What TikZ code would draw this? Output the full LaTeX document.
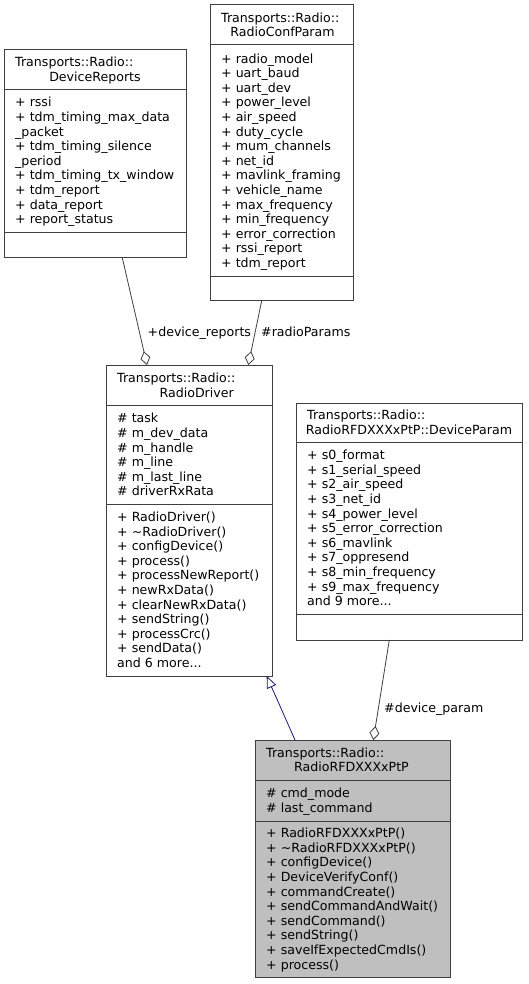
\documentclass[tikz,border=0pt]{standalone}
\usepackage{fontspec}
\setmainfont{DejaVu Sans}
\usetikzlibrary{arrows.meta}
\definecolor{boxc}{HTML}{404040}
\definecolor{aggc}{HTML}{404040}
\definecolor{inhc}{HTML}{191970}
\definecolor{hlfill}{HTML}{BFBFBF}
\newcommand\fnt{\fontsize{12.6}{14.6}\selectfont}
\tikzset{
  box/.style={draw=boxc, line width=1pt, anchor=north west, inner sep=0pt, outer sep=0pt},
  boxline/.style={draw=boxc, line width=1pt},
  txt/.style={anchor=west, inner sep=0pt, align=left, font=\fnt, yshift=-1.5pt},
  ttl/.style={anchor=center, inner sep=0pt, font=\fnt, yshift=-1.5pt},
  ttll/.style={anchor=west, inner sep=0pt, font=\fnt, yshift=-1.5pt},
  agg/.style={draw=aggc, line width=0.8pt, -{Diamond[open, length=14pt, width=10pt, fill=white]}},
  inh/.style={draw=inhc, line width=0.8pt, -{Triangle[open, length=12pt, width=10pt, fill=white]}},
  lbl/.style={anchor=base west, inner sep=0pt, font=\fnt},
}
\begin{document}
\begin{tikzpicture}[x=1pt,y=-1pt]
\useasboundingbox[fill=white] (0,0) rectangle (528,984);

% DeviceReports
\node[box, minimum width=182pt, minimum height=207.7pt] (dr) at (4,50) {};
\draw[boxline] (dr.west |- 0,89.3) -- (dr.east |- 0,89.3);
\draw[boxline] (dr.west |- 0,232.3) -- (dr.east |- 0,232.3);
\node[ttll] (dr-t1) at (15,62.35) {\strut Transports::Radio::};
\node[ttl] (dr-t2) at (95,76.95) {\strut DeviceReports};
\node[txt] (dr-a) at (15,160.8) {\strut + rssi\\\strut + tdm\_timing\_max\_data\\\strut \_packet\\\strut + tdm\_timing\_silence\\\strut \_period\\\strut + tdm\_timing\_tx\_window\\\strut + tdm\_report\\\strut + data\_report\\\strut + report\_status};

% RadioConfParam
\node[box, minimum width=143.3pt, minimum height=295.7pt] (rcp) at (210,5) {};
\draw[boxline] (rcp.west |- 0,45) -- (rcp.east |- 0,45);
\draw[boxline] (rcp.west |- 0,276.7) -- (rcp.east |- 0,276.7);
\node[ttll] (rcp-t1) at (221,17.7) {\strut Transports::Radio::};
\node[ttl] (rcp-t2) at (282.5,32.3) {\strut RadioConfParam};
\node[txt] (rcp-a) at (221,160.85) {\strut + radio\_model\\\strut + uart\_baud\\\strut + uart\_dev\\\strut + power\_level\\\strut + air\_speed\\\strut + duty\_cycle\\\strut + mum\_channels\\\strut + net\_id\\\strut + mavlink\_framing\\\strut + vehicle\_name\\\strut + max\_frequency\\\strut + min\_frequency\\\strut + error\_correction\\\strut + rssi\_report\\\strut + tdm\_report};

% RadioDriver
\node[box, minimum width=166pt, minimum height=311pt] (rd) at (106,365) {};
\draw[boxline] (rd.west |- 0,405.7) -- (rd.east |- 0,405.7);
\draw[boxline] (rd.west |- 0,504.3) -- (rd.east |- 0,504.3);
\node[ttll] (rd-t1) at (117,378.05) {\strut Transports::Radio::};
\node[ttl] (rd-t2) at (196.7,392.65) {\strut RadioDriver};
\node[txt] (rd-a) at (117,455) {\strut \# task\\\strut \# m\_dev\_data\\\strut \# m\_handle\\\strut \# m\_line\\\strut \# m\_last\_line\\\strut \# driverRxRata};
\node[txt] (rd-m) at (117,590.15) {\strut + RadioDriver()\\\strut + \textasciitilde RadioDriver()\\\strut + configDevice()\\\strut + process()\\\strut + processNewReport()\\\strut + newRxData()\\\strut + clearNewRxData()\\\strut + sendString()\\\strut + processCrc()\\\strut + sendData()\\\strut and 6 more...};

% DeviceParam
\node[box, minimum width=226.3pt, minimum height=236.7pt] (dp) at (296,403.3) {};
\draw[boxline] (dp.west |- 0,442.3) -- (dp.east |- 0,442.3);
\draw[boxline] (dp.west |- 0,614.3) -- (dp.east |- 0,614.3);
\node[ttll] (dp-t1) at (307,415.5) {\strut Transports::Radio::};
\node[ttl] (dp-t2) at (409,430.1) {\strut RadioRFDXXXxPtP::DeviceParam};
\node[txt] (dp-a) at (307,528.3) {\strut + s0\_format\\\strut + s1\_serial\_speed\\\strut + s2\_air\_speed\\\strut + s3\_net\_id\\\strut + s4\_power\_level\\\strut + s5\_error\_correction\\\strut + s6\_mavlink\\\strut + s7\_oppresend\\\strut + s8\_min\_frequency\\\strut + s9\_max\_frequency\\\strut and 9 more...};

% RadioRFDXXXxPtP
\node[box, fill=hlfill, minimum width=195.7pt, minimum height=237pt] (rfd) at (255,740) {};
\draw[boxline] (rfd.west |- 0,780.5) -- (rfd.east |- 0,780.5);
\draw[boxline] (rfd.west |- 0,821) -- (rfd.east |- 0,821);
\node[ttll] (rfd-t1) at (266,752.95) {\strut Transports::Radio::};
\node[ttl] (rfd-t2) at (351.5,767.55) {\strut RadioRFDXXXxPtP};
\node[txt] (rfd-a) at (266,800.75) {\strut \# cmd\_mode\\\strut \# last\_command};
\node[txt] (rfd-m) at (266,899) {\strut + RadioRFDXXXxPtP()\\\strut + \textasciitilde RadioRFDXXXxPtP()\\\strut + configDevice()\\\strut + DeviceVerifyConf()\\\strut + commandCreate()\\\strut + sendCommandAndWait()\\\strut + sendCommand()\\\strut + sendString()\\\strut + saveIfExpectedCmdIs()\\\strut + process()};

% connector end points
\coordinate (drS) at (122.3,257.7);
\coordinate (rdN1) at (147,365);
\coordinate (rcpS) at (261.7,300.7);
\coordinate (rdN2) at (248.3,365);
\coordinate (dpS) at (389.3,640);
\coordinate (rfdN1) at (373.3,740);
\coordinate (rfdN2) at (295,740);
\coordinate (rdS) at (266.7,676);

\draw[agg] (drS) -- (rdN1);
\draw[agg] (rcpS) -- (rdN2);
\draw[agg] (dpS) -- (rfdN1);
\draw[inh] (rfdN2) -- (rdS);

\node[lbl] (l-dr) at (147.5,336.5) {+device\_reports};
\node[lbl] (l-rp) at (261,336.5) {\#radioParams};
\node[lbl] (l-dp) at (384,712.7) {\#device\_param};
\end{tikzpicture}
\end{document}
